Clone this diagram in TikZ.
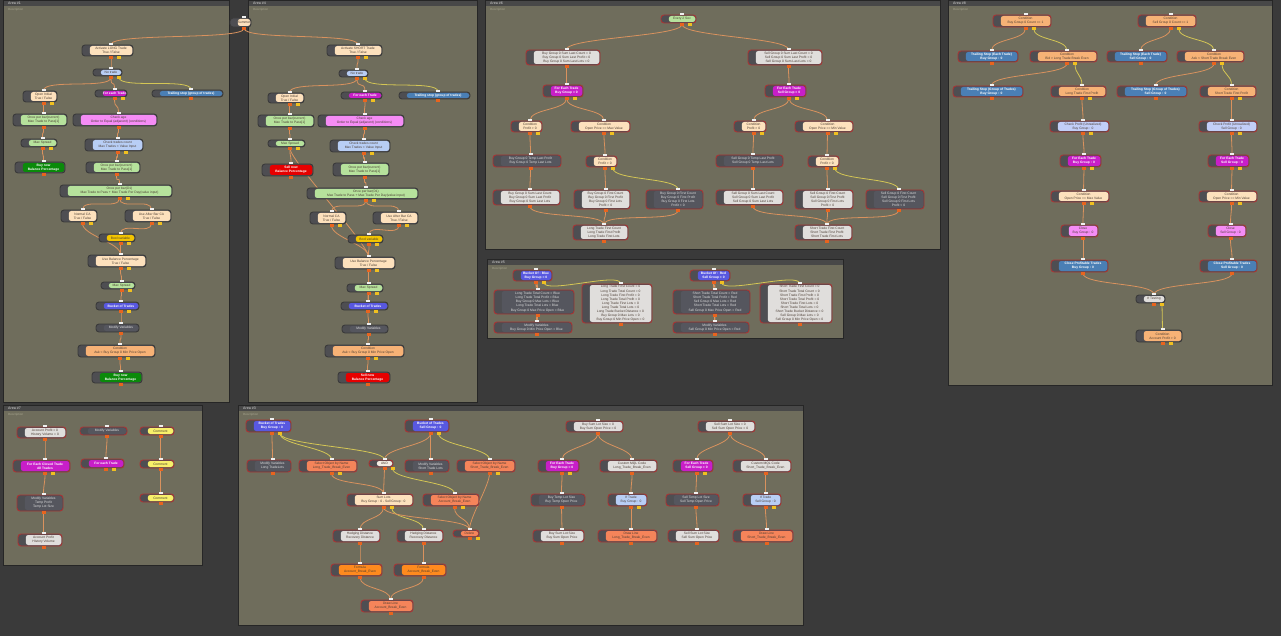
\documentclass[tikz,border=0pt]{standalone}
\usepackage{fontspec}
\setmainfont{Liberation Sans}
\definecolor{cBg}{HTML}{3A3A3A}
\definecolor{cPanel}{HTML}{6F6D5C}
\definecolor{cBar}{HTML}{484848}
\definecolor{cDesc}{HTML}{A8A690}
\definecolor{cTab}{HTML}{4E4E52}
\definecolor{cRB}{HTML}{A83434}
\definecolor{cDB}{HTML}{3A3A3A}
\definecolor{cTxt}{HTML}{4A3C32}
\definecolor{cLt}{HTML}{E0E0E0}
\definecolor{cPeach}{HTML}{FDE1BD}
\definecolor{cLblue}{HTML}{B8CEF5}
\definecolor{cMag}{HTML}{C81EC8}
\definecolor{cSteel}{HTML}{4A7FB5}
\definecolor{cLgreen}{HTML}{B6E29C}
\definecolor{cPink}{HTML}{F58CF5}
\definecolor{cDgreen}{HTML}{0A8A0A}
\definecolor{cRed}{HTML}{E60000}
\definecolor{cYel}{HTML}{F2C500}
\definecolor{cBkt}{HTML}{5858E0}
\definecolor{cDark}{HTML}{55565E}
\definecolor{cOrL}{HTML}{F7B276}
\definecolor{cLgray}{HTML}{E0DEDC}
\definecolor{cSalm}{HTML}{F5845A}
\definecolor{cOr}{HTML}{FF8A1E}
\definecolor{cLyel}{HTML}{F8F06A}
\definecolor{cLav}{HTML}{C2CEF8}
\definecolor{cOff}{HTML}{F4ECE2}
\definecolor{cPortO}{HTML}{E8641E}
\definecolor{cPortY}{HTML}{F0C020}
\definecolor{cConO}{HTML}{D9925E}
\definecolor{cConY}{HTML}{D4C655}
\pgfdeclarelayer{bg}
\pgfdeclarelayer{edges}
\pgfsetlayers{bg,edges,main}
\tikzset{
  nbox/.style={rectangle, rounded corners=3pt, fill=cTab, line width=0.9pt, inner sep=0pt},
  ninner/.style={rectangle, rounded corners=2.5pt, inner sep=0pt, align=center, font=\fontsize{3.3}{4.1}\selectfont},
  bR/.style={draw=cRB}, bD/.style={draw=cDB},
  sPeach/.style={fill=cPeach,text=cTxt},
  sLblue/.style={fill=cLblue,text=cTxt},
  sMag/.style={fill=cMag,text=white,font=\fontsize{3.3}{4.1}\selectfont\bfseries},
  sSteel/.style={fill=cSteel,text=white,font=\fontsize{3.3}{4.1}\selectfont\bfseries},
  sLgreen/.style={fill=cLgreen,text=cTxt},
  sPink/.style={fill=cPink,text=cTxt},
  sDgreen/.style={fill=cDgreen,text=white,font=\fontsize{3.3}{4.1}\selectfont\bfseries},
  sRed/.style={fill=cRed,text=white,font=\fontsize{3.3}{4.1}\selectfont\bfseries},
  sYel/.style={fill=cYel,text=cTxt},
  sBkt/.style={fill=cBkt,text=white,font=\fontsize{3.3}{4.1}\selectfont\bfseries},
  sDark/.style={fill=cDark,text=cLt},
  sOrL/.style={fill=cOrL,text=cTxt},
  sLgray/.style={fill=cLgray,text=cTxt},
  sSalm/.style={fill=cSalm,text=cTxt},
  sOr/.style={fill=cOr,text=cTxt},
  sLyel/.style={fill=cLyel,text=cTxt},
  sLav/.style={fill=cLav,text=cTxt},
  sOff/.style={fill=cOff,text=cTxt},
  conO/.style={draw=cConO, line width=0.8pt},
  conY/.style={draw=cConY, line width=0.8pt},
  ptitle/.style={anchor=west,inner sep=0pt,font=\fontsize{3.6}{4}\selectfont,text=black!15},
  pdesc/.style={anchor=west,inner sep=0pt,font=\fontsize{3}{4}\selectfont,text=cDesc},
}
\newcommand{\nd}[8]{%
  \node[nbox,#7,minimum width={(#4-#2)*1pt},minimum height={(#5-#3)*1pt}] (#1) at ({(#2+#4)/2},{(#3+#5)/2}) {};
  \node[ninner,#6,minimum width={(#4-#2-8.5)*1pt},minimum height={(#5-#3-2)*1pt}] (#1i) at ({(#2+#4+7)/2},{(#3+#5)/2}) {#8};
  \fill[cPortO] ([xshift=1.5pt,yshift=-2.2pt]#1.south) rectangle ([xshift=5.5pt,yshift=0.3pt]#1.south);
  \fill[white!88!gray] ([xshift=1.5pt,yshift=-0.5pt]#1.north) rectangle ([xshift=5.5pt,yshift=1.5pt]#1.north);
}
\newcommand{\yp}[1]{\fill[cPortY] ([xshift=9.5pt,yshift=-2.2pt]#1.south) rectangle ([xshift=13.5pt,yshift=0.3pt]#1.south);}
\newcommand{\cn}[2]{\begin{pgfonlayer}{edges}\draw[conO] ([xshift=3.5pt,yshift=-1pt]#1.south) .. controls +(0,12) and +(0,-12) .. ([xshift=3.5pt]#2.north);\end{pgfonlayer}}
\newcommand{\cy}[2]{\yp{#1}\begin{pgfonlayer}{edges}\draw[conY] ([xshift=11.5pt,yshift=-1pt]#1.south) .. controls +(0,12) and +(0,-12) .. ([xshift=3.5pt]#2.north);\end{pgfonlayer}}
\newcommand{\panel}[6]{%
  \fill[cPanel] (#1,#2) rectangle (#3,#4);
  \fill[cBar] (#1,#2) rectangle (#3,{#2+6});
  \draw[black!85,line width=0.8pt] (#1,#2) rectangle (#3,#4);
  \node[ptitle] (#6t) at ({#1+5},{#2+3}) {#5};
  \node[pdesc] (#6d) at ({#1+5},{#2+10}) {Description};
}
\begin{document}
\begin{tikzpicture}[x=1pt,y=-1pt]
\useasboundingbox (0,0) rectangle (1281,636);
\begin{pgfonlayer}{bg}
\fill[cBg] (0,0) rectangle (1281,636);
\panel{3}{0}{229}{402}{Area \#1}{p1}
\panel{248}{0}{477}{402}{Area \#4}{p4}
\panel{485}{0}{940}{249}{Area \#6}{p6}
\panel{487}{259}{843}{338}{Area \#5}{p5}
\panel{948}{0}{1272}{385}{Area \#8}{p8}
\panel{3}{405}{202}{565}{Area \#7}{p7}
\panel{238}{405}{803}{625}{Area \#3}{p3}
\end{pgfonlayer}

% ---------------- Area 1 ----------------
\nd{sum}{230}{18}{251}{27}{sPeach}{bD}{Summer}
\nd{aact}{82}{45}{133}{56}{sPeach}{bD}{Activate LONG Trade\\True / False}\yp{aact}
\nd{ant}{93}{69}{122}{76}{sLblue}{bD}{No trade}
\nd{aoi}{23}{91}{57}{102}{sPeach}{bD}{Open Initial\\True / False}\yp{aoi}
\nd{afe}{95}{90}{127}{97}{sMag}{bD}{For each Trade}\yp{afe}
\nd{ats}{152}{90}{223}{97}{sSteel}{bD}{Trailing stop (group of trades)}
\nd{aob1}{13}{114}{67}{126}{sLgreen}{bD}{Once per bar(current)\\Max Trade to Pass[1]}
\nd{aca}{73}{114}{157}{126}{sPink}{bD}{Check age\\Order to Equal (adjacent) (conditions)}
\nd{ams1}{21}{139}{57}{147}{sLgreen}{bD}{Max Spread}\yp{ams1}
\nd{actc}{85}{139}{143}{151}{sLblue}{bD}{Check trades count\\Max Trades < Value Input}\yp{actc}
\nd{abuy1}{15}{162}{65}{173}{sDgreen}{bD}{Buy now\\Balance Percentage}
\nd{aob2}{86}{162}{140}{173}{sLgreen}{bD}{Once per bar(current)\\Max Trade to Pass[1]}
\nd{aobd}{60}{185}{172}{197}{sLgreen}{bD}{Once per bar(D1)\\Max Trade to Pass + Max Trade Per Day(value input)}\yp{aobd}
\nd{anca}{61}{210}{97}{222}{sPeach}{bD}{Normal CA\\True / False}\yp{anca}
\nd{auab}{125}{210}{171}{222}{sPeach}{bD}{Use After Bar CA\\True / False}\yp{auab}
\nd{abool}{99}{234}{135}{242}{sYel}{bD}{Bool variable}\yp{abool}
\nd{aubp}{88}{255}{146}{267}{sPeach}{bD}{Use Balance Percentage\\True / False}\yp{aubp}
\nd{ams2}{101}{282}{135}{289}{sLgreen}{bD}{Max Spread}\yp{ams2}
\nd{abkt}{96}{302}{139}{310}{sBkt}{bD}{Bucket of Trades}\yp{abkt}
\nd{amv}{96}{324}{139}{332}{sDark}{bD}{Modify Variables}
\nd{acond}{78}{345}{155}{357}{sOrL}{bD}{Condition\\Ask < Buy Group 0 Min Price Open}\yp{acond}
\nd{abuy2}{92}{372}{142}{383}{sDgreen}{bD}{Buy now\\Balance Percentage}
\cn{sum}{aact}
\cn{aact}{ant}\cn{ant}{aoi}\cn{ant}{afe}\cy{ant}{ats}
\cn{aoi}{aob1}\cn{aob1}{ams1}\cn{ams1}{abuy1}
\cn{afe}{aca}\cn{aca}{actc}\cn{actc}{aob2}\cn{aob2}{aobd}
\cn{aobd}{anca}\cn{aobd}{auab}\cn{anca}{aubp}\cn{auab}{abool}\cn{abool}{aubp}
\cn{aubp}{ams2}\cn{ams2}{abkt}\cn{abkt}{amv}\cn{amv}{acond}\cn{acond}{abuy2}

% ---------------- Area 4 ----------------
\nd{bact}{327}{45}{382}{56}{sPeach}{bD}{Activate SHORT Trade\\True / False}\yp{bact}
\nd{bnt}{339}{70}{368}{77}{sLblue}{bD}{No trade}
\nd{boi}{268}{93}{304}{103}{sPeach}{bD}{Open Initial\\True / False}\yp{boi}
\nd{bfe}{341}{92}{382}{99}{sMag}{bD}{For each Trade}\yp{bfe}
\nd{bts}{399}{92}{470}{99}{sSteel}{bD}{Trailing stop (group of trades)}
\nd{bob1}{258}{115}{314}{127}{sLgreen}{bD}{Once per bar(current)\\Max Trade to Pass[1]}
\nd{bca}{318}{115}{404}{127}{sPink}{bD}{Check age\\Order to Equal (adjacent) (conditions)}
\nd{bms1}{268}{140}{305}{147}{sLgreen}{bD}{Max Spread}\yp{bms1}
\nd{bctc}{330}{140}{390}{152}{sLblue}{bD}{Check trades count\\Max Trades < Value Input}\yp{bctc}
\nd{bsell1}{262}{164}{313}{176}{sRed}{bD}{Sell now\\Balance Percentage}
\nd{bob2}{333}{163}{389}{176}{sLgreen}{bD}{Once per bar(current)\\Max Trade to Pass[1]}
\nd{bobd}{307}{188}{418}{199}{sLgreen}{bD}{Once per bar(D1)\\Max Trade to Pass + Max Trade Per Day(value input)}\yp{bobd}
\nd{bnca}{310}{212}{346}{224}{sPeach}{bD}{Normal CA\\True / False}\yp{bnca}
\nd{buab}{373}{212}{418}{224}{sPeach}{bD}{Use After Bar CA\\True / False}\yp{buab}
\nd{bbool}{348}{235}{383}{243}{sYel}{bD}{Bool variable}\yp{bbool}
\nd{bubp}{335}{257}{395}{269}{sPeach}{bD}{Use Balance Percentage\\True / False}\yp{bubp}
\nd{bms2}{347}{284}{383}{292}{sLgreen}{bD}{Max Spread}\yp{bms2}
\nd{bbkt}{341}{302}{388}{310}{sBkt}{bD}{Bucket of Trades}\yp{bbkt}
\nd{bmv}{342}{325}{388}{333}{sDark}{bD}{Modify Variables}
\nd{bcond}{325}{345}{404}{357}{sOrL}{bD}{Condition\\Ask < Buy Group 0 Min Price Open}\yp{bcond}
\nd{bsell2}{338}{372}{390}{383}{sRed}{bD}{Sell now\\Balance Percentage}
\cn{sum}{bact}
\cn{bact}{bnt}\cn{bnt}{boi}\cn{bnt}{bfe}\cy{bnt}{bts}
\cn{boi}{bob1}\cn{bob1}{bms1}\cn{bms1}{bsell1}\cn{bms1}{bubp}
\cn{bfe}{bca}\cn{bca}{bctc}\cn{bctc}{bob2}\cn{bob2}{bobd}
\cn{bobd}{bnca}\cn{bobd}{buab}\cn{bnca}{bubp}\cn{buab}{bbool}\cn{bbool}{bubp}
\cn{bubp}{bms2}\cn{bms2}{bbkt}\cn{bbkt}{bmv}\cn{bmv}{bcond}\cn{bcond}{bsell2}

% ---------------- Area 6 ----------------
\nd{cev}{661}{15}{696}{23}{sLgreen}{bR}{Every 2 Sec}\yp{cev}
\nd{cbsum0}{526}{50}{600}{65}{sLgray}{bR}{Buy Group 0 Sum Last Count = 0\\Buy Group 0 Sum Last Profit = 0\\Buy Group 0 Sum Last Lots = 0}
\nd{cbfe}{543}{85}{583}{97}{sMag}{bR}{For Each Trade\\Buy Group = 0}\yp{cbfe}
\nd{cbcp}{511}{121}{542}{132}{sPeach}{bR}{Condition\\Profit > 0}\yp{cbcp}
\nd{cbco}{571}{121}{630}{132}{sPeach}{bR}{Condition\\Open Price == Max Value}\yp{cbco}
\nd{cbtmp}{493}{155}{561}{167}{sDark}{bR}{Buy Group 0 Temp Last Profit\\Buy Group 0 Temp Last Lots}
\nd{cbcp2}{586}{156}{617}{167}{sPeach}{bR}{Condition\\Profit > 0}
\nd{cbsum}{493}{190}{560}{205}{sLgray}{bR}{Buy Group 0 Sum Last Count\\Buy Group 0 Sum Last Profit\\Buy Group 0 Sum Last Lots}
\nd{cbf1}{574}{190}{630}{209}{sLgray}{bR}{Buy Group 0 First Count\\Buy Group 0 First Profit\\Buy Group 0 First Lots\\Profit > 0}
\nd{cbf2}{646}{190}{703}{209}{sDark}{bR}{Buy Group 0 First Count\\Buy Group 0 First Profit\\Buy Group 0 First Lots\\Profit < 0}
\nd{clt}{573}{225}{628}{240}{sLgray}{bR}{Long Trade First Count\\Long Trade First Profit\\Long Trade First Lots}
\nd{cssum0}{748}{50}{822}{65}{sLgray}{bR}{Sell Group 0 Sum Last Count = 0\\Sell Group 0 Sum Last Profit = 0\\Sell Group 0 Sum Last Lots = 0}
\nd{csfe}{765}{85}{806}{97}{sMag}{bR}{For Each Trade\\Sell Group = 0}\yp{csfe}
\nd{cscp}{734}{121}{766}{132}{sPeach}{bR}{Condition\\Profit > 0}\yp{cscp}
\nd{csco}{795}{121}{853}{132}{sPeach}{bR}{Condition\\Open Price == Min Value}\yp{csco}
\nd{cstmp}{716}{155}{783}{167}{sDark}{bR}{Sell Group 0 Temp Last Profit\\Sell Group 0 Temp Last Lots}
\nd{cscp2}{808}{156}{839}{167}{sPeach}{bR}{Condition\\Profit > 0}
\nd{cssum}{716}{190}{783}{205}{sLgray}{bR}{Sell Group 0 Sum Last Count\\Sell Group 0 Sum Last Profit\\Sell Group 0 Sum Last Lots}
\nd{csf1}{795}{190}{853}{209}{sLgray}{bR}{Sell Group 0 First Count\\Sell Group 0 First Profit\\Sell Group 0 First Lots\\Profit > 0}
\nd{csf2}{866}{190}{924}{209}{sDark}{bR}{Sell Group 0 First Count\\Sell Group 0 First Profit\\Sell Group 0 First Lots\\Profit < 0}
\nd{cst}{795}{225}{852}{240}{sLgray}{bR}{Short Trade First Count\\Short Trade First Profit\\Short Trade First Lots}
\cn{cev}{cbsum0}\cn{cev}{cssum0}
\cn{cbsum0}{cbfe}\cn{cbfe}{cbcp}\cn{cbfe}{cbco}\cn{cbcp}{cbtmp}\cn{cbtmp}{cbsum}
\cn{cbco}{cbcp2}\cn{cbcp2}{cbf1}\cy{cbcp2}{cbf2}
\cn{cbsum}{clt}\cn{cbf1}{clt}\cn{cbf2}{clt}
\cn{cssum0}{csfe}\cn{csfe}{cscp}\cn{csfe}{csco}\cn{cscp}{cstmp}\cn{cstmp}{cssum}
\cn{csco}{cscp2}\cn{cscp2}{csf1}\cy{cscp2}{csf2}
\cn{cssum}{cst}\cn{csf1}{cst}\cn{csf2}{cst}

% ---------------- Area 5 ----------------
\nd{dbb}{513}{270}{552}{281}{sBkt}{bR}{Bucket Of : Blue\\Buy Group = 0}
\nd{dbt}{494}{290}{574}{314}{sDark}{bR}{Long Trade Total Count = Blue\\Long Trade Total Profit = Blue\\Buy Group 0 Max Lots = Blue\\Long Trade Total Lots = Blue\\Buy Group 0 Max Price Open = Blue}
\nd{dbm}{494}{322}{572}{333}{sDark}{bR}{Modify Variables\\Buy Group 0 Min Price Open = Blue}
\nd{dbf}{582}{284}{652}{323}{sLgray}{bR}{Long Trade First Count = 0\\Long Trade Total Count = 0\\Long Trade First Profit = 0\\Long Trade Total Profit = 0\\Long Trade First Lots = 0\\Long Trade Total Lots = 0\\Long Trade Bucket Distance = 0\\Buy Group 0 Max Lots = 0\\Buy Group 0 Min Price Open = 0}
\nd{drb}{690}{270}{730}{281}{sBkt}{bR}{Bucket Of : Red\\Sell Group = 0}
\nd{drt}{673}{290}{750}{314}{sDark}{bR}{Short Trade Total Count = Red\\Short Trade Total Profit = Red\\Sell Group 0 Max Lots = Red\\Short Trade Total Lots = Red\\Sell Group 0 Max Price Open = Red}
\nd{drm}{673}{322}{749}{333}{sDark}{bR}{Modify Variables\\Sell Group 0 Min Price Open = Red}
\nd{drf}{760}{284}{832}{323}{sLgray}{bR}{Short Trade First Count = 0\\Short Trade Total Count = 0\\Short Trade First Profit = 0\\Short Trade Total Profit = 0\\Short Trade First Lots = 0\\Short Trade Total Lots = 0\\Short Trade Bucket Distance = 0\\Sell Group 0 Max Lots = 0\\Sell Group 0 Min Price Open = 0}
\cn{dbb}{dbt}\cy{dbb}{dbf}\cn{dbt}{dbm}
\cn{drb}{drt}\cy{drb}{drf}\cn{drt}{drm}

% ---------------- Area 8 ----------------
\nd{ebc}{993}{15}{1051}{27}{sOrL}{bR}{Condition\\Buy Group 0 Count == 1}
\nd{esc}{1138}{15}{1196}{27}{sOrL}{bR}{Condition\\Sell Group 0 Count == 1}
\nd{ebte}{958}{51}{1018}{62}{sSteel}{bR}{Trailing Stop (Each Trade)\\Buy Group : 0}
\nd{ebbid}{1030}{51}{1097}{62}{sOrL}{bR}{Condition\\Bid > Long Trade Break Even}
\nd{este}{1107}{51}{1167}{62}{sSteel}{bR}{Trailing Stop (Each Trade)\\Sell Group : 0}
\nd{esask}{1177}{51}{1244}{62}{sOrL}{bR}{Condition\\Ask < Short Trade Break Even}
\nd{ebtg}{953}{86}{1023}{97}{sSteel}{bR}{Trailing Stop (Group of Trades)\\Buy Group : 0}
\nd{eblf}{1051}{86}{1106}{97}{sOrL}{bR}{Condition\\Long Trade First Profit}\yp{eblf}
\nd{estg}{1117}{86}{1187}{97}{sSteel}{bR}{Trailing Stop (Group of Trades)\\Sell Group : 0}
\nd{eslf}{1200}{86}{1256}{97}{sOrL}{bR}{Condition\\Short Trade First Profit}\yp{eslf}
\nd{ebcpu}{1050}{121}{1109}{132}{sLav}{bR}{Check Profit (Unrealized)\\Buy Group : 0}\yp{ebcpu}
\nd{escpu}{1199}{121}{1257}{132}{sLav}{bR}{Check Profit (Unrealized)\\Sell Group : 0}\yp{escpu}
\nd{ebfe}{1060}{155}{1101}{167}{sMag}{bR}{For Each Trade\\Buy Group : 0}\yp{ebfe}
\nd{esfe}{1208}{155}{1249}{167}{sMag}{bR}{For Each Trade\\Sell Group : 0}\yp{esfe}
\nd{ebop}{1051}{191}{1109}{202}{sPeach}{bR}{Condition\\Open Price == Max Value}\yp{ebop}
\nd{esop}{1199}{191}{1257}{202}{sPeach}{bR}{Condition\\Open Price == Min Value}\yp{esop}
\nd{ebcl}{1061}{225}{1098}{237}{sPink}{bR}{Close\\Buy Group : 0}
\nd{escl}{1208}{225}{1246}{237}{sPink}{bR}{Close\\Sell Group : 0}
\nd{ebcpt}{1051}{260}{1108}{272}{sSteel}{bR}{Close Profitable Trades\\Buy Group : 0}
\nd{escpt}{1200}{260}{1257}{272}{sSteel}{bR}{Close Profitable Trades\\Sell Group : 0}
\nd{eit}{1136}{295}{1165}{303}{sLgray}{bD}{If Testing}
\nd{eap}{1136}{330}{1182}{342}{sOrL}{bD}{Condition\\Account Profit > 0}\yp{eap}
\cn{ebc}{ebte}\cy{ebc}{ebbid}\cn{ebbid}{ebtg}\cy{ebbid}{eblf}
\cn{eblf}{ebcpu}\cn{ebcpu}{ebfe}\cn{ebfe}{ebop}\cn{ebop}{ebcl}\cn{ebcl}{ebcpt}\cn{ebcpt}{eit}
\cn{esc}{este}\cy{esc}{esask}\cn{esask}{estg}\cy{esask}{eslf}
\cn{eslf}{escpu}\cn{escpu}{esfe}\cn{esfe}{esop}\cn{esop}{escl}\cn{escl}{escpt}\cn{escpt}{eit}
\cy{eit}{eap}

% ---------------- Area 7 ----------------
\nd{fap0}{17}{427}{66}{438}{sLgray}{bR}{Account Profit = 0\\History Volume = 0}
\nd{fmv}{80}{427}{127}{435}{sDark}{bR}{Modify Variables}
\nd{fc1}{140}{427}{174}{435}{sLyel}{bR}{Comment}
\nd{ffec}{13}{460}{70}{472}{sMag}{bR}{For Each Closed Trade\\All Trades}\yp{ffec}
\nd{ffe}{81}{459}{124}{468}{sMag}{bR}{For each Trade}\yp{ffe}
\nd{fc2}{140}{460}{174}{468}{sLyel}{bR}{Comment}
\nd{fmv2}{17}{495}{63}{511}{sDark}{bR}{Modify Variables\\Temp Profit\\Temp Lot Size}
\nd{fc3}{140}{494}{174}{502}{sLyel}{bR}{Comment}
\nd{fap}{18}{534}{62}{546}{sLgray}{bR}{Account Profit\\History Volume}
\cn{fap0}{ffec}\cn{ffec}{fmv2}\cn{fmv2}{fap}\cn{fmv}{ffe}\cn{fc1}{fc2}\cn{fc2}{fc3}

% ---------------- Area 3 ----------------
\nd{gbb}{246}{420}{291}{432}{sBkt}{bR}{Bucket of Trades\\Buy Group : 0}
\nd{gsb}{405}{420}{449}{432}{sBkt}{bR}{Bucket of Trades\\Sell Group : 0}
\nd{gmvl}{247}{460}{291}{472}{sDark}{bR}{Modify Variables\\Long TradeLots}
\nd{gsol}{299}{460}{357}{472}{sSalm}{bR}{Select Object by Name\\Long\_Trade\_Break\_Even}\yp{gsol}
\nd{gand}{369}{460}{393}{467}{sOff}{bR}{AND}
\nd{gmvs}{405}{460}{449}{472}{sDark}{bR}{Modify Variables\\Short Trade Lots}
\nd{gsos}{457}{460}{515}{472}{sSalm}{bR}{Select Object by Name\\Short\_Trade\_Break\_Even}\yp{gsos}
\nd{gsum}{347}{494}{413}{506}{sPeach}{bR}{Sum Lots\\Buy Group : 0 - Sell Group : 0}
\nd{gsoa}{423}{494}{479}{506}{sSalm}{bR}{Select Object by Name\\Account\_Break\_Even}\yp{gsoa}
\nd{ghd1}{333}{530}{380}{542}{sLgray}{bR}{Hedging Distance\\Recovery Distance}
\nd{ghd2}{397}{530}{443}{542}{sLgray}{bR}{Hedging Distance\\Recovery Distance}
\nd{gdel}{453}{530}{479}{537}{sSalm}{bR}{Delete}\yp{gdel}
\nd{gf1}{331}{564}{382}{576}{sOr}{bR}{Formula\\Account\_Break\_Even}
\nd{gf2}{394}{564}{446}{576}{sOr}{bR}{Formula\\Account\_Break\_Even}
\nd{gdl}{361}{600}{413}{612}{sSalm}{bR}{Draw Line\\Account\_Break\_Even}
\nd{gbs0}{566}{421}{623}{432}{sLgray}{bR}{Buy Sum Lot Size = 0\\Buy Sum Open Price = 0}
\nd{gss0}{698}{421}{755}{432}{sLgray}{bR}{Sell Sum Lot Size = 0\\Sell Sum Open Price = 0}
\nd{gbfe}{538}{460}{579}{472}{sMag}{bR}{For Each Trade\\Buy Group = 0}\yp{gbfe}
\nd{gcml}{600}{460}{657}{472}{sLgray}{bR}{Custom MQL Code\\Long\_Trade\_Break\_Even}
\nd{gsfe}{673}{460}{713}{472}{sMag}{bR}{For Each Trade\\Sell Group = 0}\yp{gsfe}
\nd{gcms}{733}{460}{791}{472}{sLgray}{bR}{Custom MQL Code\\Short\_Trade\_Break\_Even}
\nd{gbtl}{531}{494}{585}{506}{sDark}{bR}{Buy Temp Lot Size\\Buy Temp Open Price}
\nd{gitb}{608}{494}{647}{506}{sLblue}{bR}{If Trade\\Buy Group : 0}\yp{gitb}
\nd{gstl}{666}{494}{719}{506}{sDark}{bR}{Sell Temp Lot Size\\Sell Temp Open Price}
\nd{gits}{743}{494}{781}{506}{sLblue}{bR}{If Trade\\Sell Group : 0}\yp{gits}
\nd{gbsl}{533}{530}{584}{542}{sLgray}{bR}{Buy Sum Lot Size\\Buy Sum Open Price}
\nd{gdll}{598}{530}{657}{542}{sSalm}{bR}{Draw Line\\Long\_Trade\_Break\_Even}
\nd{gssl}{668}{530}{719}{542}{sLgray}{bR}{Sell Sum Lot Size\\Sell Sum Open Price}
\nd{gdls}{733}{530}{793}{542}{sSalm}{bR}{Draw Line\\Short\_Trade\_Break\_Even}
\cn{gbb}{gmvl}\cy{gbb}{gsol}\cy{gbb}{gand}
\cn{gsb}{gand}\cn{gsb}{gmvs}\cy{gsb}{gsos}
\cn{gsol}{gsum}\cn{gand}{gsum}\cy{gand}{gsoa}
\cn{gsos}{gdel}\cn{gsoa}{gdel}
\cn{gsum}{ghd1}\cy{gsum}{ghd2}\cn{gsum}{gdel}
\cn{ghd1}{gf1}\cn{ghd2}{gf2}\cn{gf1}{gdl}\cn{gf2}{gdl}
\cn{gbs0}{gbfe}\cn{gbs0}{gcml}\cn{gbfe}{gbtl}\cn{gbtl}{gbsl}\cn{gcml}{gitb}\cn{gitb}{gdll}
\cn{gss0}{gsfe}\cn{gss0}{gcms}\cn{gsfe}{gstl}\cn{gstl}{gssl}\cn{gcms}{gits}\cn{gits}{gdls}
\end{tikzpicture}
\end{document}
